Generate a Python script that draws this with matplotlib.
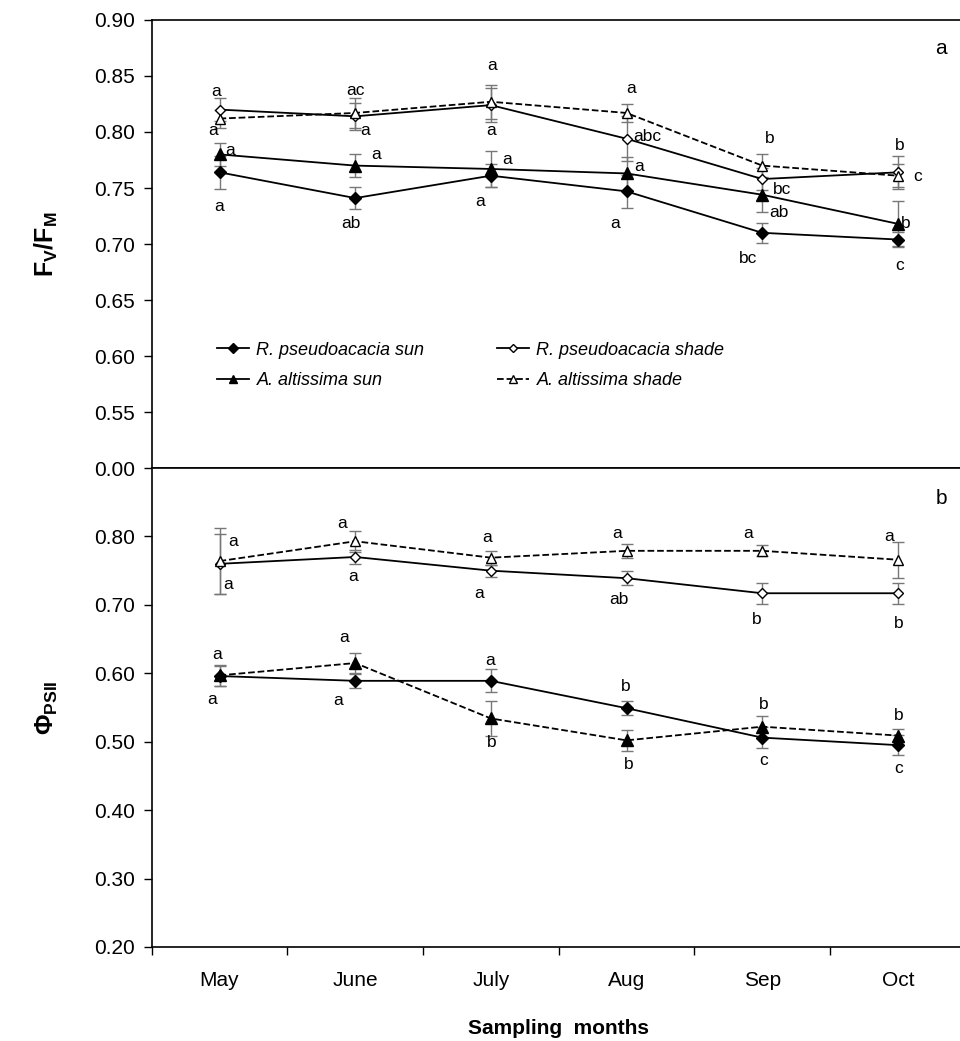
import matplotlib
matplotlib.use('Agg')
import matplotlib.pyplot as plt
from matplotlib.ticker import FixedLocator, FixedFormatter

plt.rcParams['font.family'] = ['Liberation Sans', 'DejaVu Sans']
plt.rcParams['mathtext.fontset'] = 'custom'
plt.rcParams['mathtext.rm'] = 'Liberation Sans'
plt.rcParams['mathtext.bf'] = 'Liberation Sans:bold'

# months
months = ['May', 'June', 'July', 'Aug', 'Sep', 'Oct']

# Fv/Fm (panel a)
fvfm_rp_sun = [0.764, 0.741, 0.761, 0.747, 0.710, 0.704]
fvfm_rp_sun_err = [0.015, 0.010, 0.010, 0.015, 0.009, 0.007]
fvfm_aa_sun = [0.780, 0.770, 0.767, 0.763, 0.744, 0.718]
fvfm_aa_sun_err = [0.010, 0.010, 0.016, 0.015, 0.015, 0.020]
fvfm_rp_shade = [0.820, 0.814, 0.824, 0.794, 0.758, 0.764]
fvfm_rp_shade_err = [0.010, 0.012, 0.015, 0.020, 0.010, 0.015]
fvfm_aa_shade = [0.812, 0.817, 0.827, 0.817, 0.770, 0.761]
fvfm_aa_shade_err = [0.008, 0.013, 0.015, 0.008, 0.010, 0.010]

# PhiPSII (panel b)
phi_rp_sun = [0.596, 0.589, 0.589, 0.549, 0.506, 0.495]
phi_rp_sun_err = [0.015, 0.010, 0.017, 0.010, 0.015, 0.015]
phi_aa_sun = [0.597, 0.615, 0.534, 0.502, 0.522, 0.509]
phi_aa_sun_err = [0.015, 0.015, 0.025, 0.015, 0.015, 0.010]
phi_rp_shade = [0.760, 0.770, 0.750, 0.739, 0.717, 0.717]
phi_rp_shade_err = [0.044, 0.010, 0.009, 0.010, 0.015, 0.015]
phi_aa_shade = [0.764, 0.793, 0.769, 0.779, 0.779, 0.766]
phi_aa_shade_err = [0.048, 0.015, 0.010, 0.010, 0.008, 0.026]

# significance letters: (series, month index, letter, dx px, dy px)
letters_a = [
    ('rp_shade', 0, 'a', -3, 18), ('aa_shade', 0, 'a', -6, -12), ('aa_sun', 0, 'a', 11, 4), ('rp_sun', 0, 'a', 0, -34),
    ('aa_shade', 1, 'ac', 0, 22), ('rp_shade', 1, 'a', 10, -14), ('aa_sun', 1, 'a', 21, 11), ('rp_sun', 1, 'ab', -4, -25),
    ('aa_shade', 2, 'a', 1, 36), ('rp_shade', 2, 'a', 0, -25), ('aa_sun', 2, 'a', 16, 9), ('rp_sun', 2, 'a', -11, -26),
    ('aa_shade', 3, 'a', 5, 24), ('rp_shade', 3, 'abc', 21, 2), ('aa_sun', 3, 'a', 13, 7), ('rp_sun', 3, 'a', -11, -32),
    ('aa_shade', 4, 'b', 7, 27), ('rp_shade', 4, 'bc', 20, -10), ('aa_sun', 4, 'ab', 17, -18), ('rp_sun', 4, 'bc', -14, -26),
    ('rp_shade', 5, 'b', 2, 27), ('aa_shade', 5, 'c', 20, -1), ('aa_sun', 5, 'b', 8, 0), ('rp_sun', 5, 'c', 2, -26),
]
letters_b = [
    ('aa_shade', 0, 'a', 14, 20), ('rp_shade', 0, 'a', 9, -21), ('aa_sun', 0, 'a', -2, 21), ('rp_sun', 0, 'a', -7, -23),
    ('aa_shade', 1, 'a', -13, 18), ('rp_shade', 1, 'a', -2, -20), ('aa_sun', 1, 'a', -11, 26), ('rp_sun', 1, 'a', -17, -20),
    ('aa_shade', 2, 'a', -4, 20), ('rp_shade', 2, 'a', -12, -23), ('rp_sun', 2, 'a', -1, 20), ('aa_sun', 2, 'b', 1, -24),
    ('aa_shade', 3, 'a', -9, 17), ('rp_shade', 3, 'ab', -8, -21), ('rp_sun', 3, 'b', -1, 22), ('aa_sun', 3, 'b', 2, -24),
    ('aa_shade', 4, 'a', -14, 17), ('rp_shade', 4, 'b', -6, -26), ('aa_sun', 4, 'b', 1, 22), ('rp_sun', 4, 'c', 1, -23),
    ('aa_shade', 5, 'a', -9, 23), ('rp_shade', 5, 'b', 1, -30), ('aa_sun', 5, 'b', 1, 20), ('rp_sun', 5, 'c', 1, -23),
]

x = list(range(len(months)))
fig = plt.figure(figsize=(9.6, 10.41), dpi=100)
ax1 = fig.add_axes([0.158, 0.5504, 0.848, 0.4304])
ax2 = fig.add_axes([0.158, 0.0903, 0.848, 0.4601])


def draw(ax, data, dashed):
    lines = {}
    for key, marker, face, ms in [('rp_sun', 'D', 'black', 6), ('aa_sun', '^', 'black', 8),
                                  ('rp_shade', 'D', 'white', 5.5), ('aa_shade', '^', 'white', 7.5)]:
        y, err, label = data[key]
        ls = '--' if key in dashed else '-'
        ax.errorbar(x, y, yerr=err, fmt='none', ecolor='#777777', elinewidth=1, capsize=4, capthick=1, zorder=2)
        ln, = ax.plot(x, y, linestyle=ls, color='black', lw=1.3, marker=marker, ms=ms,
                      mfc=face, mec='black', mew=1, label=label, zorder=3)
        lines[key] = ln
    return lines


data_a = {
    'rp_sun': (fvfm_rp_sun, fvfm_rp_sun_err, 'R. pseudoacacia sun'),
    'aa_sun': (fvfm_aa_sun, fvfm_aa_sun_err, 'A. altissima sun'),
    'rp_shade': (fvfm_rp_shade, fvfm_rp_shade_err, 'R. pseudoacacia shade'),
    'aa_shade': (fvfm_aa_shade, fvfm_aa_shade_err, 'A. altissima shade'),
}
data_b = {
    'rp_sun': (phi_rp_sun, phi_rp_sun_err, 'R. pseudoacacia sun'),
    'aa_sun': (phi_aa_sun, phi_aa_sun_err, 'A. altissima sun'),
    'rp_shade': (phi_rp_shade, phi_rp_shade_err, 'R. pseudoacacia shade'),
    'aa_shade': (phi_aa_shade, phi_aa_shade_err, 'A. altissima shade'),
}

la = draw(ax1, data_a, ['aa_shade'])
draw(ax2, data_b, ['aa_shade', 'aa_sun'])

for ax, data, letters in [(ax1, data_a, letters_a), (ax2, data_b, letters_b)]:
    for key, i, txt, dx, dy in letters:
        ax.annotate(txt, (x[i], data[key][0][i]), xytext=(dx, dy), textcoords='offset pixels',
                    ha='center', va='center', fontsize=12.5)

# axes styling
for ax in (ax1, ax2):
    ax.set_xlim(-0.5, 5.5)
    for s in ax.spines.values():
        s.set_linewidth(1.2)
    ax.tick_params(axis='y', direction='out', length=6, width=1, labelsize=15, pad=6)

ax1.set_ylim(0.50, 0.90)
yt = [0.50, 0.55, 0.60, 0.65, 0.70, 0.75, 0.80, 0.85, 0.90]
ax1.yaxis.set_major_locator(FixedLocator(yt))
ax1.yaxis.set_major_formatter(FixedFormatter(['0.00'] + ['%.2f' % v for v in yt[1:]]))
ax1.set_xticks([])

ax2.set_ylim(0.20, 0.90)
ax2.set_yticks([0.2, 0.3, 0.4, 0.5, 0.6, 0.7, 0.8])
ax2.set_yticklabels(['%.2f' % v for v in [0.2, 0.3, 0.4, 0.5, 0.6, 0.7, 0.8]])
ax2.set_xticks(x)
ax2.set_xticklabels(months, fontsize=15)
ax2.set_xticks([i + 0.5 for i in range(-1, 6)], minor=True)
ax2.tick_params(axis='x', which='major', length=0, pad=17)
ax2.tick_params(axis='x', which='minor', direction='out', length=6, width=1)

ax1.set_ylabel(r'$\mathbf{F_V/F_M}$', fontsize=18)
ax2.set_ylabel(r'$\mathbf{\Phi_{PSII}}$', fontsize=18)
ax2.set_xlabel('Sampling  months', fontsize=15, fontweight='bold', labelpad=21)
ax1.yaxis.set_label_coords(-0.113, 0.5)
ax2.yaxis.set_label_coords(-0.113, 0.5)

ax1.text(0.97, 0.925, 'a', transform=ax1.transAxes, fontsize=15, ha='center')
ax2.text(0.97, 0.925, 'b', transform=ax2.transAxes, fontsize=15, ha='center')

handles = [la['rp_sun'], la['aa_sun'], la['rp_shade'], la['aa_shade']]
leg = ax1.legend(handles=handles, ncol=2, loc='lower left', bbox_to_anchor=(0.06, 0.14),
                 frameon=False, prop={'style': 'italic', 'size': 13}, handlelength=1.8,
                 columnspacing=4.0, labelspacing=0.75, handletextpad=0.4, markerscale=0.8)

plt.savefig('out.png', dpi=100)
